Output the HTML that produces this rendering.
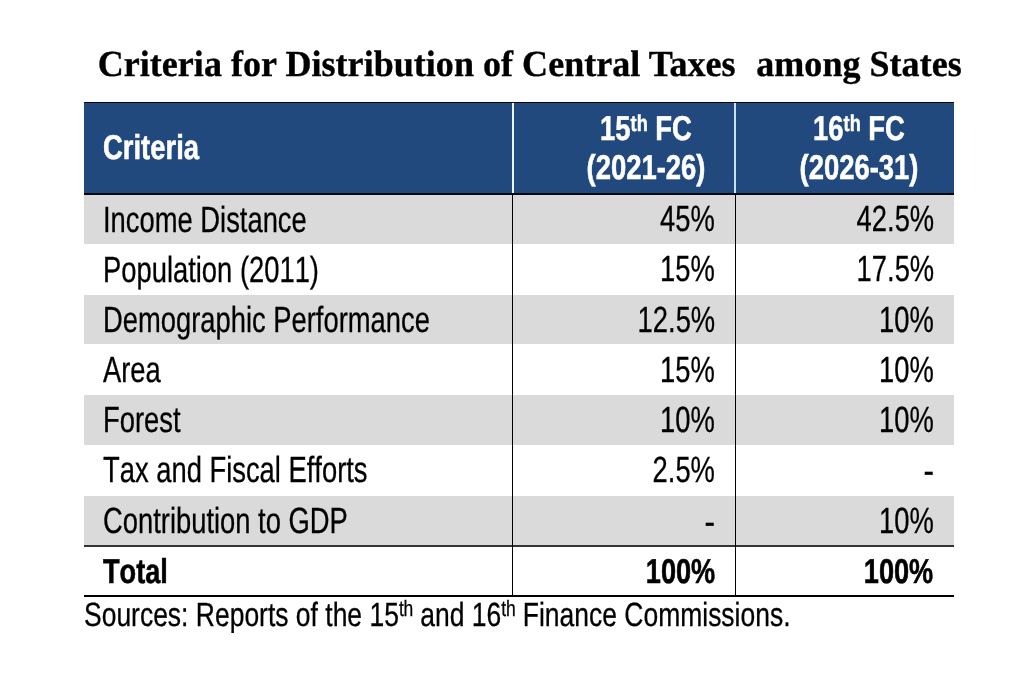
<!DOCTYPE html>
<html lang="en"><head><meta charset="utf-8"><title>Criteria for Distribution of Central Taxes among States</title>
<style>
html,body{margin:0;padding:0;background:#fff;}
body{width:1024px;height:674px;position:relative;overflow:hidden;font-family:"Liberation Sans",sans-serif;color:#000;text-rendering:geometricPrecision;}
h1,p,table,thead,tbody,tr,th,td{display:block;margin:0;padding:0;border:0;font-weight:normal;text-align:left;}
.abs{position:absolute;}
/* condensed sans text: Liberation Sans squeezed horizontally to mimic Arial Narrow */
.t{position:absolute;white-space:nowrap;font-kerning:none;font-variant-ligatures:none;line-height:1;font-size:36.4px;-webkit-text-stroke:0.3px currentColor;transform:scaleX(0.7517);}
.l{transform-origin:0 0;}
.r{transform-origin:100% 0;}
.c{transform-origin:50% 0;width:300px;text-align:center;}
.t.b{font-weight:bold;-webkit-text-stroke-width:0.55px;font-size:34.5px;transform:scaleX(0.795);}
.t.b.tot{transform:scaleX(0.787);}
.t.d{transform:scaleX(0.87);}
sup{font-size:66%;vertical-align:baseline;position:relative;top:-0.40em;line-height:0;}
#src sup{font-size:66%;top:-0.46em;letter-spacing:-0.3px;}
#title{position:absolute;left:97.7px;top:45.6px;width:900px;height:40px;font:bold 36px "Liberation Serif",serif;white-space:nowrap;line-height:1;color:#000;-webkit-text-stroke:0.35px #000;transform:scaleY(1.02);transform-origin:0 80%;}
#title span{position:absolute;top:0;left:0;letter-spacing:0.04px;}
#tbl{position:absolute;left:84px;top:0;width:869.5px;height:0;}
#tbl tr{position:absolute;left:0;width:869.5px;}
#tbl thead th{color:#fff;}
#tbl thead th.h2{position:absolute;top:0;width:300px;height:92px;}
.hd{background:#22497d;}
.g{background:#dadada;}
#src{left:83.8px;top:599px;font-size:33.5px;transform:scaleX(0.7902);}
</style></head><body>
<h1 id="title"><span>Criteria for Distribution of Central Taxes&nbsp;</span><span style="left:658.6px">among States</span></h1>
<div class="abs hd" style="left:84px;top:101.7px;width:869.5px;height:93px"></div>
<div class="abs g" style="left:84px;top:195.2px;width:869.5px;height:48.6px"></div>
<div class="abs g" style="left:84px;top:294.5px;width:869.5px;height:49.9px"></div>
<div class="abs g" style="left:84px;top:394.6px;width:869.5px;height:50.5px"></div>
<div class="abs g" style="left:84px;top:495.6px;width:869.5px;height:50.4px"></div>
<table id="tbl">
<thead><tr style="top:102px;height:92px">
<th class="t l b" style="left:18.6px;top:29px">Criteria</th>
<th class="h2" style="left:412.3px"><span class="t c b" style="left:0;top:10px">15<sup>th</sup> FC</span><span class="t c b" style="left:0;top:49px">(2021-26)</span></th>
<th class="h2" style="left:624.8px"><span class="t c b" style="left:0;top:10px">16<sup>th</sup> FC</span><span class="t c b" style="left:0;top:49px">(2026-31)</span></th>
</tr></thead>
<tbody>
<tr style="top:195px;height:49px">
<td class="t l" style="left:18.8px;top:7px">Income Distance</td>
<td class="t r" style="right:238.3px;top:6px">45%</td>
<td class="t r" style="right:19.8px;top:6px">42.5%</td>
</tr>
<tr style="top:244px;height:51px">
<td class="t l" style="left:18.8px;top:8px">Population (2011)</td>
<td class="t r" style="right:238.3px;top:7px">15%</td>
<td class="t r" style="right:19.8px;top:7px">17.5%</td>
</tr>
<tr style="top:295px;height:49px">
<td class="t l" style="left:18.8px;top:7px">Demographic Performance</td>
<td class="t r" style="right:238.3px;top:7px">12.5%</td>
<td class="t r" style="right:19.8px;top:7px">10%</td>
</tr>
<tr style="top:344px;height:51px">
<td class="t l" style="left:18.8px;top:8px">Area</td>
<td class="t r" style="right:238.3px;top:8px">15%</td>
<td class="t r" style="right:19.8px;top:8px">10%</td>
</tr>
<tr style="top:395px;height:50px">
<td class="t l" style="left:18.8px;top:7px">Forest</td>
<td class="t r" style="right:238.3px;top:7px">10%</td>
<td class="t r" style="right:19.8px;top:7px">10%</td>
</tr>
<tr style="top:445px;height:51px">
<td class="t l" style="left:18.8px;top:7px">Tax and Fiscal Efforts</td>
<td class="t r" style="right:238.3px;top:7px">2.5%</td>
<td class="t r d" style="right:19.8px;top:8px">-</td>
</tr>
<tr style="top:496px;height:50px">
<td class="t l" style="left:18.8px;top:7px">Contribution to GDP</td>
<td class="t r d" style="right:238.3px;top:8px">-</td>
<td class="t r" style="right:19.8px;top:7px">10%</td>
</tr>
<tr style="top:546px;height:50px">
<th class="t l b tot" style="left:18.8px;top:9px">Total</th>
<td class="t r b tot" style="right:238.3px;top:9px">100%</td>
<td class="t r b tot" style="right:19.8px;top:9px">100%</td>
</tr>
</tbody></table>
<div class="abs" style="left:84px;top:101.7px;width:869.5px;height:1.5px;background:#04060f"></div>
<div class="abs" style="left:84px;top:193px;width:869.5px;height:1.7px;background:#030812"></div>
<div class="abs" style="left:84px;top:545.1px;width:869.7px;height:1.6px;background:#333"></div>
<div class="abs" style="left:84px;top:595.4px;width:869.7px;height:1.6px;background:#000"></div>
<div class="abs" style="left:511.9px;top:103.2px;width:2.1px;height:89.8px;background:#eaf6fd"></div>
<div class="abs" style="left:734.2px;top:103.2px;width:2.1px;height:89.8px;background:#c6e3f6"></div>
<div class="abs" style="left:511.95px;top:194.7px;width:1.4px;height:401.5px;background:#000"></div>
<div class="abs" style="left:734.65px;top:194.7px;width:1.4px;height:401.5px;background:#000"></div>
<p id="src" class="t l">Sources: Reports of the 15<sup>th</sup> and 16<sup>th</sup> Finance Commissions.</p>
</body></html>
